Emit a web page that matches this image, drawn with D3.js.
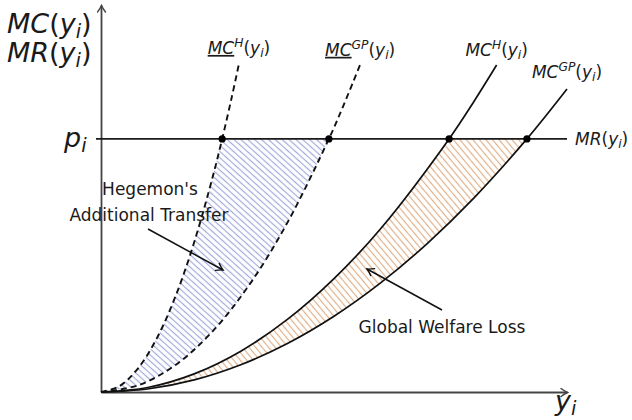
<!DOCTYPE html>
<html>
<head>
<meta charset="utf-8">
<script src="https://cdn.jsdelivr.net/npm/d3@7"></script>
<style>
  html, body { margin: 0; padding: 0; background: #fff; }
  svg { display: block; }
  text { font-family: "DejaVu Sans", "Open Sans", sans-serif; fill: #1a1a1a; }
</style>
</head>
<body>
<svg id="chart" width="632" height="420"></svg>
<script>
// Output y_i on the horizontal axis, marginal cost / revenue on the vertical axis.
const priceLevel = 65.4;

// Lower-bound marginal cost of the hegemon (dashed)
const mcHegemonLowX = [0, 4, 8, 12, 16, 20, 24, 26, 28, 29.6];
const mcHegemonLowY = [0, 1.55, 6.19, 13.93, 24.77, 38.7, 55.73, 65.4, 75.85, 84.77];

// Lower-bound marginal cost of the great power (dashed)
const mcGreatPowerLowX = [0, 8, 16, 24, 32, 40, 48.9, 52, 55.6];
const mcGreatPowerLowY = [0, 1.75, 7.0, 15.75, 28.0, 43.76, 65.4, 73.95, 84.55];

// Marginal cost of the hegemon (solid)
const mcHegemonX = [0, 10, 20, 30, 40, 50, 60, 74.7, 80, 84.9];
const mcHegemonY = [0, 1.17, 4.69, 10.55, 18.75, 29.3, 42.19, 65.4, 75.01, 84.48];

// Marginal cost of the great power (solid)
const mcGreatPowerX = [0, 10, 20, 30, 40, 50, 60, 70, 80, 91.4, 100];
const mcGreatPowerY = [0, 0.78, 3.13, 7.05, 12.53, 19.57, 28.18, 38.36, 50.1, 65.4, 78.29];

// Output levels where each curve meets the marginal revenue line
const mrCrossings = [26, 48.9, 74.7, 91.4];

const svg = d3.select("#chart");
const x = d3.scaleLinear().domain([0, 100]).range([101, 567]);
const y = d3.scaleLinear().domain([0, 100]).range([392, 5]);

const zip = (xs, ys) => xs.map((v, i) => ({ x: v, y: ys[i] }));
const hLow = zip(mcHegemonLowX, mcHegemonLowY);
const gpLow = zip(mcGreatPowerLowX, mcGreatPowerLowY);
const hMc = zip(mcHegemonX, mcHegemonY);
const gpMc = zip(mcGreatPowerX, mcGreatPowerY);

const line = d3.line().x(d => x(d.x)).y(d => y(d.y)).curve(d3.curveCatmullRom.alpha(0.5));

// Hatch patterns and arrowheads
const defs = svg.append("defs");
function hatch(id, color, gap, angle) {
  const p = defs.append("pattern").attr("id", id)
    .attr("patternUnits", "userSpaceOnUse")
    .attr("width", gap).attr("height", 10)
    .attr("patternTransform", `rotate(${angle})`);
  p.append("line").attr("x1", gap / 2).attr("x2", gap / 2).attr("y1", 0).attr("y2", 10)
    .attr("stroke", color).attr("stroke-width", 1.2);
}
hatch("hatchBlue", "#a3aadb", 4.6, -48);
hatch("hatchOrange", "#e0b08a", 5.0, -40);

function arrowMarker(id, color) {
  defs.append("marker").attr("id", id)
    .attr("viewBox", "-8 -5 10 10").attr("refX", 0).attr("refY", 0)
    .attr("markerWidth", 10).attr("markerHeight", 10)
    .attr("markerUnits", "userSpaceOnUse").attr("orient", "auto")
    .append("path").attr("d", "M-6.5,-4 Q-2.5,-1 0,0 Q-2.5,1 -6.5,4")
    .attr("fill", "none").attr("stroke", color).attr("stroke-width", 1.4)
    .attr("stroke-linecap", "round");
}
arrowMarker("arrowBlack", "#111");
arrowMarker("arrowAxis", "#444");

// Shaded region between two curves, bounded above by the MR line
function band(outer, inner) {
  const a = outer.filter(d => d.y <= priceLevel);
  const b = inner.filter(d => d.y <= priceLevel).slice().reverse();
  return line(a) + line(b).replace(/^M/, "L") + "Z";
}
svg.append("path").attr("d", band(gpLow, hLow)).attr("fill", "url(#hatchBlue)");
svg.append("path").attr("d", band(gpMc, hMc)).attr("fill", "url(#hatchOrange)");

// Axes (no tick labels) drawn with d3 axes
const xAxis = svg.append("g").attr("transform", `translate(0,${y(0)})`)
  .call(d3.axisBottom(x).tickValues([]).tickSizeOuter(0));
xAxis.select(".domain").attr("stroke", "#444").attr("stroke-width", 1.8)
  .attr("marker-end", "url(#arrowAxis)");
const yAxis = svg.append("g").attr("transform", `translate(${x(0)},0)`)
  .call(d3.axisLeft(y).tickValues([]).tickSizeOuter(0));
yAxis.select(".domain").attr("stroke", "#444").attr("stroke-width", 1.8)
  .attr("marker-end", "url(#arrowAxis)");

// Marginal revenue line at the price level
svg.append("line")
  .attr("x1", x(0) - 5).attr("x2", x(100))
  .attr("y1", y(priceLevel)).attr("y2", y(priceLevel))
  .attr("stroke", "#1a1a1a").attr("stroke-width", 1.8);

// Cost curves
[[hLow, true], [gpLow, true], [hMc, false], [gpMc, false]].forEach(([pts, dashed]) => {
  svg.append("path").attr("d", line(pts))
    .attr("fill", "none").attr("stroke", "#111").attr("stroke-width", dashed ? 1.9 : 1.7)
    .attr("stroke-dasharray", dashed ? "6,4" : null);
});

// Intersection dots
svg.selectAll("circle.cross").data(mrCrossings).join("circle")
  .attr("class", "cross")
  .attr("cx", d => x(d)).attr("cy", y(priceLevel)).attr("r", 3.6)
  .attr("fill", "#000");

// Math-style label built from tspans
function mathLabel(px, py, size, parts, anchor) {
  const t = svg.append("text").attr("x", px).attr("y", py)
    .attr("font-size", size).attr("text-anchor", anchor || "start");
  let shift = 0;
  parts.forEach(p => {
    const target = p.sup ? -0.4 * size : p.sub ? 0.2 * size : 0;
    const s = t.append("tspan").text(p.t)
      .attr("dy", target - shift)
      .attr("font-size", (p.sup || p.sub) ? size * 0.72 : size)
      .attr("font-style", p.it ? "italic" : "normal");
    if (p.u) s.style("text-decoration", "underline");
    shift = target;
  });
  return t;
}
const yi = [{ t: "(" }, { t: "y", it: true }, { t: "i", it: true, sub: true }, { t: ")" }];
const mc = (sup, under) => [{ t: "MC", it: true, u: under }, { t: sup, it: true, sup: true }].concat(yi);

const curveLabels = [
  { pts: hLow, parts: mc("H", true), dy: -10 },
  { pts: gpLow, parts: mc("GP", true), dy: -9 },
  { pts: hMc, parts: mc("H", false), dy: -9 },
  { pts: gpMc, parts: mc("GP", false), dy: -11 }
];
curveLabels.forEach(l => {
  const end = l.pts[l.pts.length - 1];
  mathLabel(x(end.x), y(end.y) + l.dy, 17, l.parts, "middle");
});
mathLabel(x(100) + 8, y(priceLevel) + 6, 17, [{ t: "MR", it: true }].concat(yi));

// Axis titles
mathLabel(7, 33, 27, [{ t: "MC", it: true }].concat(yi));
mathLabel(7, 62, 27, [{ t: "MR", it: true }].concat(yi));
mathLabel(64, y(priceLevel) + 8, 27, [{ t: "p", it: true }, { t: "i", it: true, sub: true }]);
mathLabel(555, 410, 27, [{ t: "y", it: true }, { t: "i", it: true, sub: true }]);

// Annotations
svg.append("text").attr("x", 150).attr("y", 195).attr("font-size", 17)
  .attr("text-anchor", "middle").text("Hegemon's");
svg.append("text").attr("x", 149).attr("y", 221).attr("font-size", 17)
  .attr("text-anchor", "middle").text("Additional Transfer");
svg.append("line").attr("x1", 148).attr("y1", 229).attr("x2", 223).attr("y2", 270)
  .attr("stroke", "#111").attr("stroke-width", 1.5).attr("marker-end", "url(#arrowBlack)");

svg.append("text").attr("x", 442).attr("y", 333).attr("font-size", 17)
  .attr("text-anchor", "middle").text("Global Welfare Loss");
svg.append("line").attr("x1", 442).attr("y1", 310).attr("x2", 367).attr("y2", 269)
  .attr("stroke", "#111").attr("stroke-width", 1.5).attr("marker-end", "url(#arrowBlack)");
</script>
</body>
</html>
